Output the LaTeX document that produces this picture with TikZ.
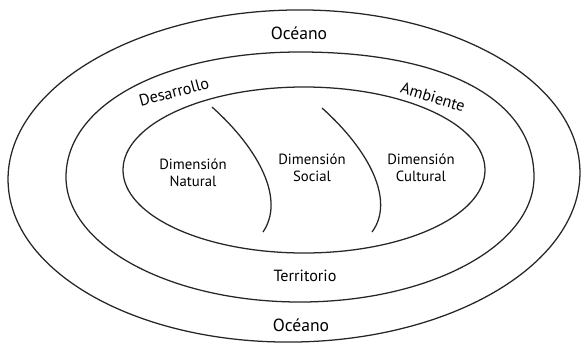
\documentclass[tikz,border=0pt]{standalone}
\usepackage{fontspec}
\setmainfont{PT Sans}
\begin{document}
\begin{tikzpicture}[x=.025cm,y=.025cm,every node/.style={font=\fontsize{10.5}{12}\selectfont,align=center},
    anillo/.style={line width=.9pt,black!85}]
    \useasboundingbox (0,0) rectangle (583,344);
    \draw[anillo,rotate around={1:(294,168)}] (294,168) ellipse (286 and 166);
    % anillo medio, algo mas lleno arriba
    \draw[anillo] (534,167) .. controls (534,244.5) and (445.1,292) .. (300,292)
        .. controls (164.3,292) and (66,239.5) .. (66,167)
        .. controls (66,98) and (170.8,42) .. (300,42)
        .. controls (429.2,42) and (534,98) .. (534,167) -- cycle;
    \draw[anillo] (304,174) ellipse (181 and 83);
    \draw[anillo] (212,237) .. controls (260,194) and (285,144) .. (263,112);
    \draw[anillo] (322,236) .. controls (370,193) and (395,143) .. (372,112);
    \node[font=\fontsize{12.5}{14}\selectfont] (oceanoN) at (299,311) {Océano};
    \node[font=\fontsize{12.5}{14}\selectfont] (oceanoS) at (301,19) {Océano};
    \node[font=\fontsize{11.5}{13}\selectfont] (terr) at (305,68) {Territorio};
    \node[font=\fontsize{11.5}{13}\selectfont,rotate=15] (desa) at (174,252) {Desarrollo};
    \node[font=\fontsize{11.5}{13}\selectfont,rotate=-17] (amb) at (433,247) {Ambiente};
    \node (natural) at (193,171) {Dimensión\\Natural};
    \node (social) at (312,176) {Dimensión\\Social};
    \node (cultural) at (421,176) {Dimensión\\Cultural};
\end{tikzpicture}
\end{document}
